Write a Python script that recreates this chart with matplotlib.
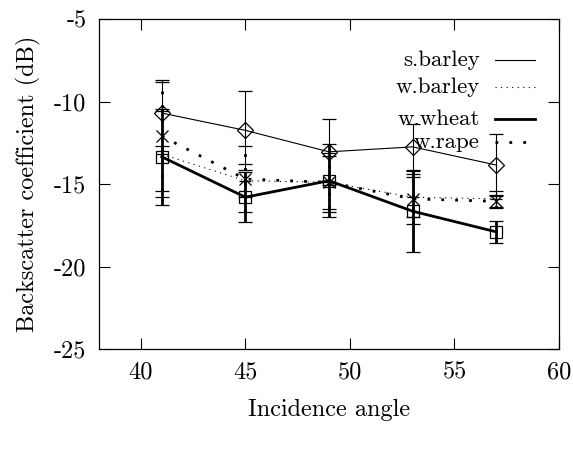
import numpy as np
import matplotlib
matplotlib.use('Agg')
import matplotlib.pyplot as plt

plt.rcParams['font.family'] = 'cmr10'
plt.rcParams['axes.unicode_minus'] = False
plt.rcParams['mathtext.fontset'] = 'cm'

# incidence angles and mean backscatter (dB) with error bar half-widths
angles = [41, 45, 49, 53, 57]

s_barley = [-10.7, -11.75, -13.05, -12.75, -13.85]
s_barley_err = [2.0, 2.4, 2.0, 1.4, 1.9]

w_barley = [-13.2, -14.8, -14.9, -15.8, -15.9]
w_barley_err = [2.6, 1.0, 1.8, 1.2, 0.5]

w_wheat = [-13.35, -15.8, -14.8, -16.65, -17.9]
w_wheat_err = [2.9, 1.5, 2.2, 2.45, 0.65]

w_rape = [-12.1, -14.7, -14.9, -15.9, -16.05]
w_rape_err = [3.3, 2.0, 1.6, 1.5, 0.4]

labels = ['s.barley', 'w.barley', 'w.wheat', 'w.rape']

fig = plt.figure(figsize=(5.73, 4.49), dpi=100)
ax = fig.add_axes([99 / 573, 100 / 449, 460 / 573, 330 / 449])

styles = [
    dict(ls='-', lw=0.8, marker='D', ms=8),
    dict(ls=(0, (1, 4)), lw=0.8, marker='+', ms=9),
    dict(ls='-', lw=2.0, marker='s', ms=8),
    dict(ls=(0, (1, 4)), lw=2.0, marker='x', ms=8),
]
series = [(s_barley, s_barley_err), (w_barley, w_barley_err),
          (w_wheat, w_wheat_err), (w_rape, w_rape_err)]

for (vals, errs), st in zip(series, styles):
    eb = ax.errorbar(angles, vals, yerr=errs, color='black',
                     ls=st['ls'], lw=st['lw'], marker=st['marker'],
                     ms=st['ms'], mfc='none', mec='black', mew=0.9,
                     elinewidth=st['lw'], capsize=5, capthick=st['lw'])
    for c in eb[2]:
        c.set_linestyle(st['ls'])

# key, gnuplot style: text right-aligned with sample to the right
key_y = [0.876, 0.794, 0.697, 0.627]
for lab, y, st in zip(labels, key_y, styles):
    ax.text(0.828, y, lab, transform=ax.transAxes, ha='right',
            va='center', fontsize=16.5)
    ax.plot([0.861, 0.948], [y, y], transform=ax.transAxes,
            color='black', ls=st['ls'], lw=st['lw'])

ax.set_xlim(38, 60)
ax.set_ylim(-25, -5)
ax.set_xticks([40, 45, 50, 55, 60])
ax.set_yticks([-5, -10, -15, -20, -25])
ax.tick_params(direction='in', length=8, width=0.8, top=True, right=True,
               labelsize=17.5, pad=9)
for s in ax.spines.values():
    s.set_linewidth(0.9)

ax.set_xlabel('Incidence angle', fontsize=17.5, labelpad=11)
ax.set_ylabel('Backscatter coefficient (dB)', fontsize=17.5, labelpad=9)

fig.savefig('out.png', dpi=100)
